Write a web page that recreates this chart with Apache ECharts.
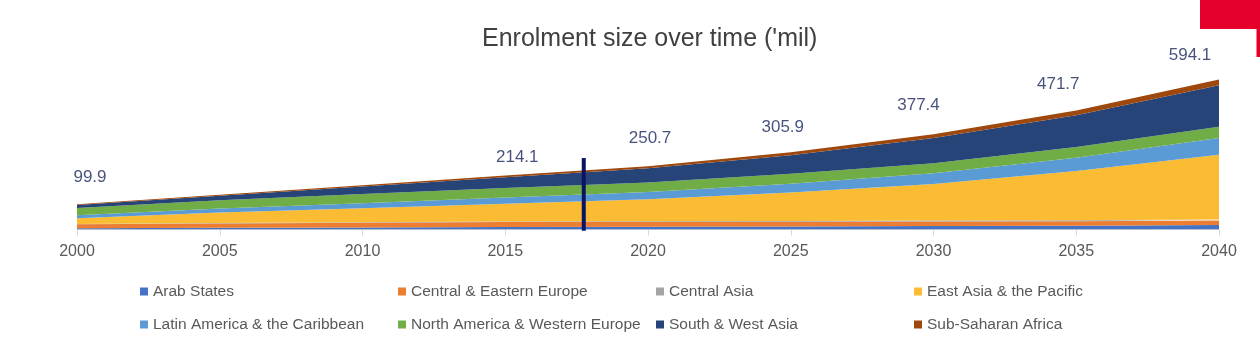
<!DOCTYPE html>
<html>
<head>
<meta charset="utf-8">
<script src="https://cdn.jsdelivr.net/npm/echarts@6/dist/echarts.min.js"></script>
<style>
  html, body { margin: 0; padding: 0; background: #ffffff; }
  #chart { width: 1260px; height: 364px; }
</style>
</head>
<body>
<div id="chart"></div>
<script>
// ---- data ----
const years = ['2000', '2005', '2010', '2015', '2020', '2025', '2030', '2035', '2040'];

const regionNames = [
  'Arab States',
  'Central & Eastern Europe',
  'Central Asia',
  'East Asia & the Pacific',
  'Latin America & the Caribbean',
  'North America & Western Europe',
  'South & West Asia',
  'Sub-Saharan Africa'
];

const arabStates      = [5.3, 6.5, 8.0, 9.5, 10.5, 12.0, 13.5, 15.0, 18.0];
const centralEastEur  = [15.0, 17.5, 19.0, 20.0, 19.5, 19.0, 18.5, 18.0, 17.5];
const centralAsia     = [1.6, 1.8, 2.1, 2.3, 2.6, 3.0, 3.3, 3.6, 4.0];
const eastAsiaPacific = [23.0, 42.0, 55.0, 70.0, 87.0, 113.0, 145.0, 195.0, 257.0];
const latinAmerica    = [11.5, 15.0, 20.0, 25.0, 29.0, 34.0, 42.0, 53.0, 66.0];
const northAmWestEur  = [28.5, 33.0, 36.0, 37.5, 38.0, 39.5, 40.5, 42.0, 44.0];
const southWestAsia   = [12.5, 18.0, 30.0, 43.0, 56.0, 74.0, 100.0, 126.0, 165.0];
const subSaharan      = [2.5, 4.0, 5.5, 6.8, 8.1, 11.4, 14.6, 19.1, 22.6];

// labelled totals
const totalYears  = ['2000', '2015', '2020', '2025', '2030', '2035', '2040'];
const totalValues = [99.9, 214.1, 250.7, 305.9, 377.4, 471.7, 594.1];

// vertical marker
const markerYear = 2017.75;
const markerSpan = [-5, 283];

// ---- styles ----
const regionColors = ['#4472C4', '#ED7D31', '#A5A5A5', '#FBBC34', '#5B9BD5', '#70AD47', '#264478', '#9E480E'];
const seriesValues = [arabStates, centralEastEur, centralAsia, eastAsiaPacific, latinAmerica, northAmWestEur, southWestAsia, subSaharan];
const totalLabelNudges = [[13, -27], [12, -18], [2, -28], [-8, -25], [-15, -29], [-18, -26], [-29, -24]];
const font = '"Liberation Sans", Arial, sans-serif';

const areaSeries = regionNames.map((name, i) => ({
  name: name,
  type: 'line',
  stack: 'total',
  data: seriesValues[i],
  showSymbol: false,
  symbol: 'none',
  lineStyle: { width: 0, color: regionColors[i] },
  areaStyle: { color: regionColors[i], opacity: 1 },
  itemStyle: { color: regionColors[i] },
  z: 2
}));

const totalSeries = {
  type: 'scatter',
  symbolSize: 0,
  data: totalYears.map((y, i) => ({
    value: [y, totalValues[i]],
    label: { offset: totalLabelNudges[i] }
  })),
  label: {
    show: true,
    position: 'inside',
    formatter: p => p.value[1].toFixed(1),
    color: '#16245a',
    fontSize: 17,
    fontFamily: font
  },
  silent: true,
  z: 5
};

const markerSeries = {
  type: 'line',
  xAxisIndex: 1,
  data: markerSpan.map(v => [markerYear, v]),
  symbol: 'none',
  clip: false,
  lineStyle: { color: '#0b1460', width: 4 },
  silent: true,
  z: 6
};

const chart = echarts.init(document.getElementById('chart'), null, { renderer: 'canvas' });
chart.setOption({
  animation: false,
  backgroundColor: '#ffffff',
  title: {
    text: "Enrolment size over time ('mil)",
    left: 477,
    top: 22,
    textStyle: { color: '#404040', fontSize: 25, fontWeight: 'normal', fontFamily: font }
  },
  legend: {
    data: regionNames,
    left: 140,
    top: 280,
    width: 1030,
    padding: 0,
    orient: 'horizontal',
    icon: 'rect',
    itemWidth: 8,
    itemHeight: 8,
    itemGap: 10,
    selectedMode: false,
    textStyle: { color: '#595959', fontSize: 15.5, fontFamily: font, width: 235, lineHeight: 23, overflow: 'none' }
  },
  grid: { left: 77, right: 41, top: 78, bottom: 134.5 },
  xAxis: [{
    type: 'category',
    data: years,
    boundaryGap: false,
    axisLine: { show: true, onZero: false, lineStyle: { color: '#d9d9d9', width: 1 } },
    axisTick: { show: true, length: 6, alignWithLabel: true, lineStyle: { color: '#d9d9d9' } },
    axisLabel: { color: '#595959', fontSize: 16, fontFamily: font, margin: 14, interval: 0 },
    splitLine: { show: false }
  }, {
    type: 'value',
    min: 2000,
    max: 2040,
    show: false,
    splitLine: { show: false }
  }],
  yAxis: {
    type: 'value',
    min: 0,
    max: 600,
    show: false,
    splitLine: { show: false }
  },
  graphic: [
    { type: 'rect', shape: { x: 1200, y: 0, width: 60, height: 29 }, style: { fill: '#e4002b' }, silent: true },
    { type: 'rect', shape: { x: 1256.5, y: 0, width: 3.5, height: 57 }, style: { fill: '#e4002b' }, silent: true }
  ],
  series: [...areaSeries, totalSeries, markerSeries]
});
</script>
</body>
</html>
